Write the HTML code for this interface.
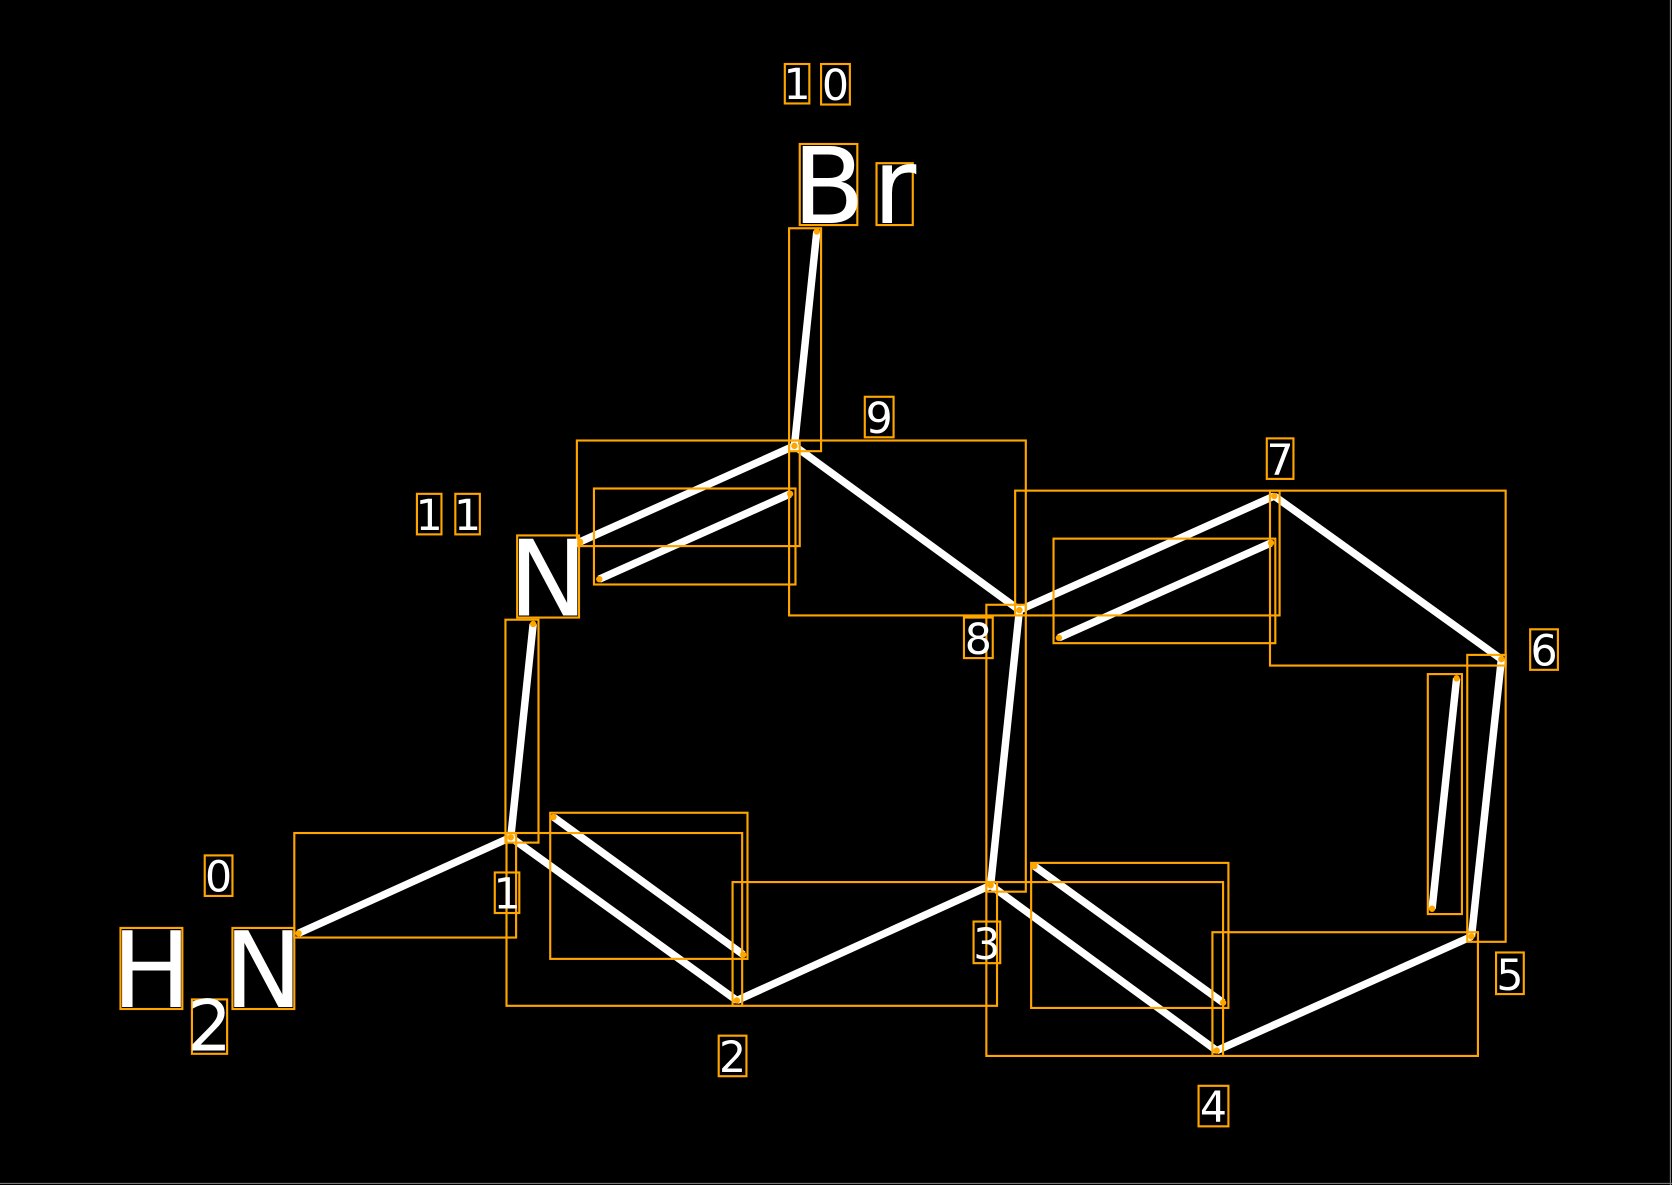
<!DOCTYPE html>
<html><head><meta charset="utf-8"><style>
html,body{margin:0;padding:0;background:#000;width:1672px;height:1185px;overflow:hidden}
svg{display:block}
text{font-family:"DejaVu Sans","Liberation Sans",sans-serif;fill:#fff}
</style></head><body>
<svg width="1672" height="1185" viewBox="0 0 1568 1111" preserveAspectRatio="none" xmlns="http://www.w3.org/2000/svg">
<rect x="0" y="0" width="1568" height="1111" fill="#000"/>
<line x1="1566.5" y1="0" x2="1566.5" y2="1111" stroke="#888" stroke-width="1"/>
<line x1="0" y1="1109.5" x2="1568" y2="1109.5" stroke="#888" stroke-width="1"/>
<g stroke="#fff" stroke-width="7" stroke-linecap="butt">
<line x1="280" y1="875" x2="479" y2="785"/>
<line x1="479" y1="785" x2="691" y2="938"/>
<line x1="519" y1="766" x2="697" y2="895"/>
<line x1="691" y1="938" x2="929" y2="830"/>
<line x1="929" y1="830" x2="1141" y2="985"/>
<line x1="970" y1="812" x2="1147" y2="940"/>
<line x1="1141" y1="985" x2="1380" y2="878"/>
<line x1="1380" y1="878" x2="1408" y2="618"/>
<line x1="1343" y1="852" x2="1366" y2="636"/>
<line x1="1408" y1="618" x2="1195" y2="465"/>
<line x1="1195" y1="465" x2="956" y2="572"/>
<line x1="1192" y1="509" x2="993" y2="598"/>
<line x1="956" y1="572" x2="929" y2="830"/>
<line x1="956" y1="572" x2="745" y2="418"/>
<line x1="745" y1="418" x2="544" y2="508"/>
<line x1="741" y1="463" x2="562" y2="543"/>
<line x1="500" y1="585" x2="479" y2="785"/>
<line x1="745" y1="418" x2="766" y2="217"/>
</g>
<g fill="none" stroke="#FFA500" stroke-width="2">
<rect x="276" y="781" width="208" height="98"/>
<rect x="475" y="781" width="221" height="162"/>
<rect x="516" y="762" width="185" height="137"/>
<rect x="687" y="827" width="248" height="116"/>
<rect x="925" y="827" width="222" height="163"/>
<rect x="967" y="809" width="185" height="136"/>
<rect x="1137" y="874" width="249" height="116"/>
<rect x="1376" y="614" width="36" height="269"/>
<rect x="1339" y="632" width="32" height="225"/>
<rect x="1191" y="460" width="221" height="164"/>
<rect x="952" y="460" width="248" height="117"/>
<rect x="988" y="505" width="208" height="98"/>
<rect x="925" y="567" width="37" height="269"/>
<rect x="740" y="413" width="222" height="164"/>
<rect x="541" y="413" width="209" height="99"/>
<rect x="557" y="458" width="189" height="90"/>
<rect x="474" y="581" width="31" height="209"/>
<rect x="740" y="214" width="30" height="209"/>
<rect x="113" y="870" width="58" height="76"/>
<rect x="180" y="937" width="33" height="51"/>
<rect x="218" y="870" width="58" height="76"/>
<rect x="485" y="502" width="58" height="77"/>
<rect x="750" y="135" width="54" height="76"/>
<rect x="822" y="153" width="34" height="58"/>
<rect x="192" y="802" width="26" height="38"/>
<rect x="464" y="818" width="23" height="38"/>
<rect x="674" y="971" width="26" height="38"/>
<rect x="913" y="864" width="25" height="39"/>
<rect x="1124" y="1018" width="28" height="38"/>
<rect x="1403" y="893" width="26" height="39"/>
<rect x="1435" y="590" width="26" height="38"/>
<rect x="1188" y="411" width="25" height="38"/>
<rect x="904" y="579" width="27" height="38"/>
<rect x="811" y="372" width="27" height="38"/>
<rect x="736" y="60" width="23" height="37"/>
<rect x="770" y="60" width="27" height="38"/>
<rect x="391" y="463" width="23" height="38"/>
<rect x="427" y="463" width="23" height="38"/>
</g>
<g fill="#FFA500">
<circle cx="280" cy="875" r="3"/><circle cx="479" cy="785" r="3"/><circle cx="691" cy="938" r="3"/>
<circle cx="519" cy="766" r="3"/><circle cx="697" cy="895" r="3"/><circle cx="929" cy="830" r="3"/>
<circle cx="1141" cy="985" r="3"/><circle cx="970" cy="812" r="3"/><circle cx="1147" cy="940" r="3"/>
<circle cx="1380" cy="878" r="3"/><circle cx="1408" cy="618" r="3"/><circle cx="1343" cy="852" r="3"/>
<circle cx="1366" cy="636" r="3"/><circle cx="1195" cy="465" r="3"/><circle cx="956" cy="572" r="3"/>
<circle cx="1192" cy="509" r="3"/><circle cx="993" cy="598" r="3"/><circle cx="745" cy="418" r="3"/>
<circle cx="544" cy="508" r="3"/><circle cx="741" cy="463" r="3"/><circle cx="562" cy="543" r="3"/>
<circle cx="500" cy="585" r="3"/><circle cx="766" cy="217" r="3"/>
</g>
<g font-size="99" text-anchor="middle">
<text x="142" y="944">H</text>
<text x="247" y="944">N</text>
<text x="514" y="577">N</text>
<text x="777" y="209">B</text>
<text x="839" y="209">r</text>
</g>
<g font-size="66" text-anchor="middle">
<text x="196.5" y="985">2</text>
</g>
<g font-size="40" text-anchor="middle">
<text x="205" y="836">0</text>
<text x="475.5" y="852">1</text>
<text x="687" y="1005">2</text>
<text x="925.5" y="899">3</text>
<text x="1138" y="1052">4</text>
<text x="1416" y="928">5</text>
<text x="1448" y="624">6</text>
<text x="1200.5" y="445">7</text>
<text x="917.5" y="613">8</text>
<text x="824.5" y="406">9</text>
<text x="747.5" y="93">1</text>
<text x="783.5" y="94">0</text>
<text x="402.5" y="497">1</text>
<text x="438.5" y="497">1</text>
</g>
</svg>
</body></html>
